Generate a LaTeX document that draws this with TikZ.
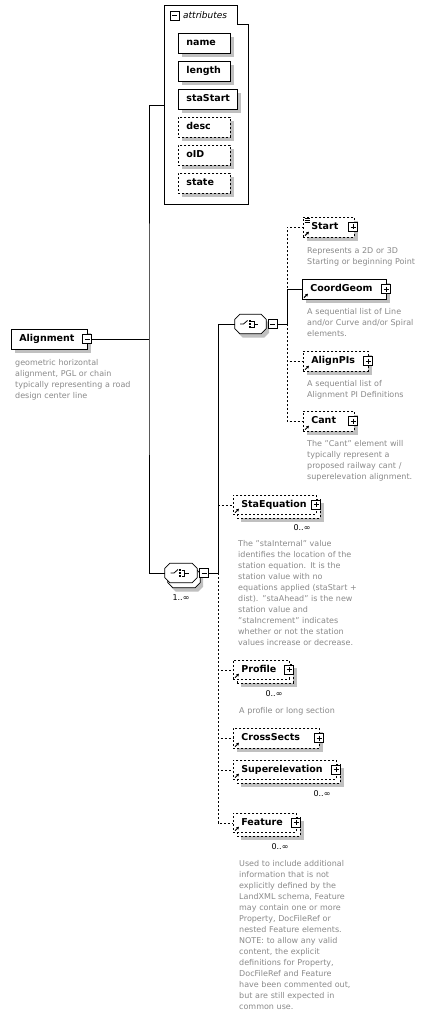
\documentclass[tikz,border=0pt]{standalone}
\usepackage{fontspec}
\setmainfont{DejaVu Sans}
\usepackage{tikz}
\usetikzlibrary{positioning,shadows,arrows.meta}
\definecolor{cShade}{HTML}{C0C0C0}
\definecolor{cNote}{HTML}{8A8A8A}
\newcommand\namefont{\fontsize{9.5}{11}\selectfont\bfseries}
\newcommand\notefont{\fontsize{8}{11}\selectfont}
% small reference arrow in the lower left corner of an element
\newcommand\refarrow[1]{\draw[line width=1pt,-{Triangle[length=2.6pt,width=2.8pt]}]
  ([shift={(2pt,2pt)}]#1.south west) -- ++(4pt,4pt);}
% octagon round a compositor node, moved by (#2,#3)
\newcommand\octpath[3]{([shift={(#2+5pt,#3)}]#1.north west) -- ([shift={(#2-5pt,#3)}]#1.north east)
  -- ([shift={(#2,#3-5pt)}]#1.north east) -- ([shift={(#2,#3+5pt)}]#1.south east)
  -- ([shift={(#2-5pt,#3)}]#1.south east) -- ([shift={(#2+5pt,#3)}]#1.south west)
  -- ([shift={(#2,#3+5pt)}]#1.south west) -- ([shift={(#2,#3-5pt)}]#1.north west) -- cycle}
% sequence symbol inside a compositor
\newcommand\seqicon[1]{%
  \draw[line width=.8pt] ([shift={(-10.5pt,0pt)}]#1.center) -- ++(3.5pt,0pt) -- ++(4pt,3.5pt);
  \foreach \k in {-3,0,3}
    \fill ([shift={(-2pt,\k pt-1pt)}]#1.center) rectangle ++(2pt,2pt);
  \draw[line width=.8pt] ([shift={(0.5pt,3pt)}]#1.center) -| ([shift={(3.5pt,-3pt)}]#1.center) -- ++(-3pt,0pt)
    ([shift={(3.5pt,0pt)}]#1.center) -- ++(4pt,0pt);}
\tikzset{
  conn/.style={line width=.7pt},
  optconn/.style={conn,dash pattern=on 2pt off 2pt},
  optional/.style={dash pattern=on 2pt off 2pt},
  ebox/.style={draw,line width=.7pt,fill=white,anchor=north west,inner xsep=8pt,
               inner ysep=0pt,align=left,text height=7pt,text depth=2.5pt,font=\namefont},
  single/.style={ebox,minimum height=20pt,
               general shadow={fill=cShade,shadow xshift=4pt,shadow yshift=-4pt}},
  multi/.style={ebox,minimum height=19pt,
               general shadow={fill=cShade,shadow xshift=8pt,shadow yshift=-8pt},
               general shadow={fill=white,draw,line width=.7pt,dash pattern=on 2pt off 2pt,
                               shadow xshift=4pt,shadow yshift=-4pt}},
  sqbox/.style={draw,fill=white,line width=.7pt,minimum size=9pt,inner sep=0pt},
  minusbox/.style={sqbox,path picture={\draw[line width=.7pt]
      ([xshift=2pt]path picture bounding box.west) -- ([xshift=-2pt]path picture bounding box.east);}},
  plusbox/.style={sqbox,path picture={\draw[line width=.7pt]
      ([xshift=2pt]path picture bounding box.west) -- ([xshift=-2pt]path picture bounding box.east)
      ([yshift=-2pt]path picture bounding box.north) -- ([yshift=2pt]path picture bounding box.south);}},
  compositor/.style={minimum width=31pt,minimum height=19pt,inner sep=0pt},
  octline/.style={line width=.7pt,draw,fill=white},
  note/.style={anchor=base west,inner sep=0pt,text width=#1,align=left,text=cNote,font=\notefont},
  note/.default=150pt,
  occurs/.style={inner sep=0pt,font=\notefont},
}
\begin{document}
\begin{tikzpicture}[x=1pt,y=-1pt]
  \path[use as bounding box,fill=white] (0,0) rectangle (430,1016);

  % root element
  \node[single,text width=60pt] (alignment) at (11,329) {Alignment};
  \node[minusbox] (almin) at (87,339) {};
  \node[note] (alnote) at (15,365) {geometric horizontal\\alignment, PGL or chain\\typically representing a road\\design center line};

  % attributes group
  \draw[line width=.7pt] (164,5) -- (237,5) -- (237,24) -- (248,24) -- (248,204) -- (164,204) -- cycle;
  \node[minusbox] (attmin) at (174.5,15.5) {};
  \node[anchor=west,inner sep=0pt,font=\fontsize{9}{11}\selectfont\itshape] (atttitle) at (183,15.5) {attributes};
  \node[single,text width=36pt] (aname) at (178,33) {name};
  \node[single,text width=36pt] (alength) at (178,61) {length};
  \node[single,text width=43pt] (astastart) at (178,89) {staStart};
  \node[single,optional,text width=36pt] (adesc) at (178,117) {desc};
  \node[single,optional,text width=36pt] (aoid) at (178,145) {oID};
  \node[single,optional,text width=36pt] (astate) at (178,173) {state};
  \coordinate (attin) at (164,105);

  % outer sequence
  \node[compositor,minimum width=32pt] (seqb) at (181,573) {};
  \fill[cShade] \octpath{seqb}{6pt}{-9pt};
  \path[octline] \octpath{seqb}{3pt}{-5pt};
  \path[octline] \octpath{seqb}{0pt}{0pt};
  \seqicon{seqb}
  \node[minusbox] (seqbmin) at (204,573) {};
  \node[occurs] (seqbocc) at (181,598) {1..∞};

  % inner sequence
  \node[compositor] (seqa) at (250.5,324) {};
  \fill[cShade] \octpath{seqa}{3pt}{-4pt};
  \path[octline] \octpath{seqa}{0pt}{0pt};
  \seqicon{seqa}
  \node[minusbox] (seqamin) at (272.5,324) {};

  % children of the inner sequence
  \node[single,optional,text width=35pt] (start) at (303,217) {Start};
  \node[plusbox] (startplus) at (353,227) {};
  \node[note] (startnote) at (307,253) {Represents a 2D or 3D\\Starting or beginning Point};
  \node[single,text width=68pt] (coordgeom) at (302,279) {CoordGeom};
  \node[plusbox] (coordplus) at (386,289) {};
  \node[note] (coordnote) at (307,314) {A sequential list of Line\\and/or Curve and/or Spiral\\elements.};
  \node[single,optional,text width=49pt] (alignpis) at (303,351) {AlignPIs};
  \node[plusbox] (alignplus) at (368,361) {};
  \node[note] (alignnote) at (307,386) {A sequential list of\\Alignment PI Definitions};
  \node[single,optional,text width=35pt] (cant) at (303,411) {Cant};
  \node[plusbox] (cantplus) at (353,421) {};
  \node[note] (cantnote) at (307,446) {The "Cant" element will\\typically represent a\\proposed railway cant /\\superelevation alignment.};

  % children of the outer sequence
  \node[multi,optional,text width=67pt] (staeq) at (233,495) {StaEquation};
  \node[plusbox] (staeqplus) at (316,504.5) {};
  \node[occurs] (staeqocc) at (302,528) {0..∞};
  \node[note] (staeqnote) at (238,546) {The "staInternal" value\\identifies the location of the\\station equation. It is the\\station value with no\\equations applied (staStart +\\dist). "staAhead" is the new\\station value and\\"staIncrement" indicates\\whether or not the station\\values increase or decrease.};
  \node[multi,optional,text width=40pt] (profile) at (233,660) {Profile};
  \node[plusbox] (profileplus) at (289,669.5) {};
  \node[occurs] (profileocc) at (274,694) {0..∞};
  \node[note] (profilenote) at (239,713) {A profile or long section};
  \node[single,optional,text width=70pt] (crosssects) at (233,728) {CrossSects};
  \node[plusbox] (crossplus) at (319,738) {};
  \node[multi,optional,text width=87pt] (superelev) at (233,760) {Superelevation};
  \node[plusbox] (superplus) at (336,769.5) {};
  \node[occurs] (superocc) at (322,794) {0..∞};
  \node[multi,optional,text width=47pt] (feature) at (233,813) {Feature};
  \node[plusbox] (featureplus) at (296,822.5) {};
  \node[occurs] (featureocc) at (280,847) {0..∞};
  \node[note] (featurenote) at (239,866) {Used to include additional\\information that is not\\explicitly defined by the\\LandXML schema, Feature\\may contain one or more\\Property, DocFileRef or\\nested Feature elements.\\NOTE: to allow any valid\\content, the explicit\\definitions for Property,\\DocFileRef and Feature\\have been commented out,\\but are still expected in\\common use.};

  % icons on the element boxes
  \foreach \e in {start,coordgeom,alignpis,cant,staeq,profile,crosssects,superelev,feature}
    {\refarrow{\e}}
  \foreach \k in {-2,-4,-6}
    \draw[line width=.6pt] ([shift={(1.5pt,\k pt+1pt)}]start.north west) -- ++(5pt,0pt);

  % connectors
  \coordinate (busa) at (149,339);
  \coordinate (busb) at (218,573);
  \coordinate (busc) at (287,324);
  \draw[conn] (almin.east) -- (busa);
  \draw[conn] (attin) -| (busa) |- (seqb.west);
  \draw[conn] (seqbmin.east) -- (busb);
  \foreach \c in {staeq,profile,crosssects,superelev,feature}
    \draw[optconn] (busb) |- (\c.west);
  \draw[conn] (busb) |- (seqa.west);
  \draw[conn] (seqamin.east) -- (busc);
  \foreach \c in {start,alignpis,cant}
    \draw[optconn] (busc) |- (\c.west);
  \draw[conn] (busc) |- (coordgeom.west);
\end{tikzpicture}
\end{document}
